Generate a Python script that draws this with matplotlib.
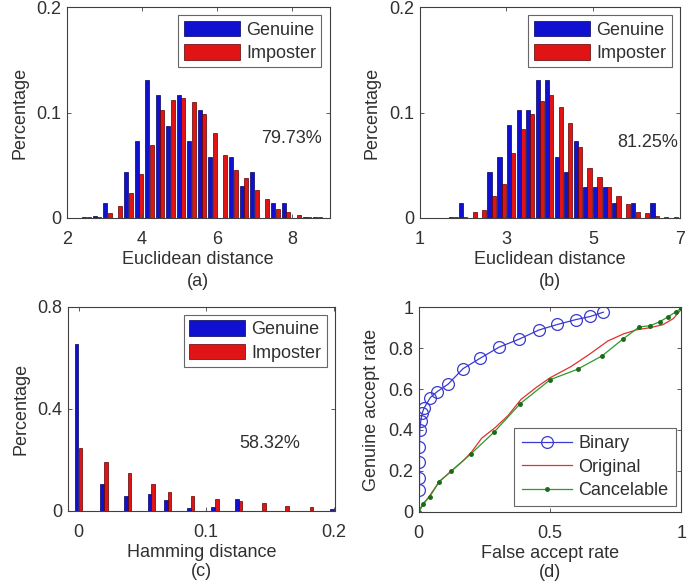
import matplotlib
matplotlib.use("Agg")
import matplotlib.pyplot as plt
import numpy as np

plt.rcParams['font.family'] = ['Liberation Sans', 'DejaVu Sans']
plt.rcParams['font.size'] = 13

TXT = '#303030'
FRAME = '#404040'
BLUE_F, BLUE_E = '#1010d0', '#00005a'
RED_F, RED_E = '#e01414', '#5a0000'

# ---------------- data ----------------
# (a) Euclidean distance histogram
a_centers = [2.52, 2.80, 3.08, 3.36, 3.64, 3.92, 4.20, 4.48, 4.76, 5.04, 5.32, 5.60,
             5.88, 6.16, 6.44, 6.72, 7.00, 7.28, 7.56, 7.84, 8.12, 8.40, 8.68]
a_genuine = [0.001, 0.002, 0.014, 0.0, 0.044, 0.073, 0.131, 0.117, 0.0875, 0.117, 0.073, 0.102,
             0.058, 0.0, 0.058, 0.030, 0.044, 0.0, 0.0145, 0.0145, 0.0, 0.001, 0.0005]
a_imposter = [0.0005, 0.001, 0.005, 0.011, 0.024, 0.042, 0.069, 0.102, 0.112, 0.114, 0.110, 0.099,
              0.081, 0.060, 0.0455, 0.038, 0.027, 0.018, 0.0085, 0.006, 0.003, 0.001, 0.0005]
a_text = '79.73%'

# (b) Euclidean distance histogram
b_centers = [1.78, 2.00, 2.22, 2.44, 2.66, 2.89, 3.11, 3.33, 3.55, 3.77, 3.99, 4.21,
             4.43, 4.65, 4.87, 5.10, 5.32, 5.54, 5.76, 5.98, 6.20, 6.42, 6.64, 6.86]
b_genuine = [0.0005, 0.0145, 0.0, 0.0, 0.044, 0.058, 0.088, 0.102, 0.102, 0.131, 0.131, 0.058,
             0.044, 0.073, 0.029, 0.029, 0.029, 0.0145, 0.0, 0.0145, 0.0, 0.0145, 0.0, 0.0]
b_imposter = [0.0005, 0.001, 0.0055, 0.0072, 0.0205, 0.032, 0.062, 0.084, 0.099, 0.111, 0.117, 0.1055,
              0.090, 0.067, 0.047, 0.039, 0.029, 0.021, 0.013, 0.006, 0.005, 0.002, 0.001, 0.0005]
b_text = '81.25%'

# (c) Hamming distance histogram
c_centers = [0.0, 0.020, 0.0385, 0.057, 0.070, 0.088, 0.107, 0.1255, 0.144, 0.162, 0.181, 0.200]
c_genuine = [0.654, 0.103, 0.059, 0.065, 0.042, 0.009, 0.013, 0.044, 0.0, 0.0, 0.0, 0.008]
c_imposter = [0.244, 0.190, 0.149, 0.105, 0.075, 0.058, 0.044, 0.039, 0.029, 0.020, 0.014, 0.0]
c_text = '58.32%'

# (d) ROC curves
bin_far = [0.003, 0.003, 0.003, 0.003, 0.004, 0.008, 0.013, 0.020, 0.044, 0.070, 0.112,
           0.169, 0.233, 0.306, 0.382, 0.458, 0.528, 0.599, 0.653, 0.703]
bin_gar = [0.106, 0.166, 0.243, 0.318, 0.400, 0.445, 0.481, 0.506, 0.558, 0.587, 0.624,
           0.700, 0.750, 0.805, 0.844, 0.889, 0.916, 0.940, 0.955, 0.976]
orig_far = [0.0, 0.02, 0.04, 0.08, 0.13, 0.17, 0.20, 0.24, 0.29, 0.34, 0.39, 0.45, 0.50,
            0.58, 0.65, 0.72, 0.78, 0.83, 0.88, 0.93, 0.97, 1.0]
orig_gar = [0.0, 0.04, 0.075, 0.15, 0.205, 0.25, 0.29, 0.36, 0.41, 0.47, 0.55, 0.61, 0.655,
            0.71, 0.77, 0.835, 0.87, 0.89, 0.90, 0.915, 0.945, 0.99]
canc_far = [0.0, 0.016, 0.042, 0.076, 0.124, 0.198, 0.286, 0.387, 0.501, 0.605, 0.699,
            0.777, 0.840, 0.882, 0.919, 0.950, 0.981, 1.0]
canc_gar = [0.0, 0.040, 0.073, 0.143, 0.199, 0.282, 0.388, 0.529, 0.646, 0.697, 0.763,
            0.844, 0.904, 0.910, 0.930, 0.954, 0.979, 0.995]

series_names = ['Genuine', 'Imposter']
roc_names = ['Binary', 'Original', 'Cancelable']

# ---------------- figure ----------------
W, H = 697, 584
fig = plt.figure(figsize=(W / 100, H / 100), dpi=100)


def px_axes(l, t, r, b):
    return fig.add_axes([l / W, 1 - b / H, (r - l) / W, (b - t) / H])


def style(ax):
    for s in ax.spines.values():
        s.set_color(FRAME)
        s.set_linewidth(0.8)
    ax.tick_params(direction='in', top=True, right=True, length=3, width=0.6,
                   color=FRAME, labelcolor=TXT, labelsize=13)
    ax.tick_params(axis='x', pad=9.5)
    ax.tick_params(axis='y', pad=4)


def hist_panel(ax, centers, gen, imp, w, off, xlim, ylim, xticks, yticks, yticklabels,
               xlabel, tag, tagy, txt, txy):
    c = np.asarray(centers)
    ax.bar(c - off, gen, width=w, color=BLUE_F, edgecolor=BLUE_E, linewidth=0.5,
           label=series_names[0])
    ax.bar(c + off, imp, width=w, color=RED_F, edgecolor=RED_E, linewidth=0.5,
           label=series_names[1])
    ax.set_xlim(*xlim)
    ax.set_ylim(*ylim)
    ax.set_xticks(xticks)
    ax.set_yticks(yticks)
    ax.set_yticklabels(yticklabels)
    style(ax)
    ax.set_xlabel(xlabel, color=TXT, fontsize=13, labelpad=2)
    ax.set_ylabel('Percentage', color=TXT, fontsize=13, labelpad=6)
    ax.text(0.5, tagy, tag, transform=ax.transAxes, ha='center', va='center',
            color=TXT, fontsize=13)
    ax.text(txy[0], txy[1], txt, ha='center', va='center', color=TXT, fontsize=13)
    leg = ax.legend(loc='upper right', fontsize=13, frameon=True, fancybox=False,
                    handlelength=3.1, handleheight=0.95, handletextpad=0.35,
                    labelspacing=0.3, borderpad=0.3, borderaxespad=0.45)
    leg.get_frame().set_edgecolor(FRAME)
    leg.get_frame().set_linewidth(0.8)
    for t in leg.get_texts():
        t.set_color(TXT)


ax_a = px_axes(67, 7, 329.5, 218)
hist_panel(ax_a, a_centers, a_genuine, a_imposter, 0.108, 0.0575, (2, 9), (0, 0.2),
           [2, 4, 6, 8], [0, 0.1, 0.2], ['0', '0.1', '0.2'],
           'Euclidean distance', '(a)', -0.30, a_text, (8.0, 0.075))

ax_b = px_axes(419.7, 7, 679.7, 218)
hist_panel(ax_b, b_centers, b_genuine, b_imposter, 0.095, 0.048, (1, 7), (0, 0.2),
           [1, 3, 5, 7], [0, 0.1, 0.2], ['0', '0.1', '0.2'],
           'Euclidean distance', '(b)', -0.30, b_text, (6.25, 0.072))

ax_c = px_axes(68.3, 306.7, 335, 510.7)
hist_panel(ax_c, c_centers, c_genuine, c_imposter, 0.0027, 0.00145, (-0.008, 0.201),
           (0, 0.8), [0, 0.1, 0.2], [0, 0.4, 0.8], ['0', '0.4', '0.8'],
           'Hamming distance', '(c)', -0.298, c_text, (0.150, 0.264))
ax_c.set_xticklabels(['0', '0.1', '0.2'])

ax_d = px_axes(418.7, 307.3, 681.3, 511.7)
ax_d.plot(bin_far, bin_gar, '-', color='#3a3ad0', linewidth=0.9, marker='o',
          markersize=8.5, markerfacecolor='none', markeredgecolor='#3a3ad0',
          markeredgewidth=0.9, label=roc_names[0])
ax_d.plot(orig_far, orig_gar, '-', color='#e03030', linewidth=0.9, label=roc_names[1])
ax_d.plot(canc_far, canc_gar, '-', color='#2a9a2a', linewidth=0.9, marker='.',
          markersize=5, markerfacecolor='#1a6a1a', markeredgecolor='#1a6a1a',
          label=roc_names[2])
ax_d.set_xlim(0, 1)
ax_d.set_ylim(0, 1)
ax_d.set_xticks([0, 0.5, 1])
ax_d.set_xticklabels(['0', '0.5', '1'])
ax_d.set_yticks([0, 0.2, 0.4, 0.6, 0.8, 1])
ax_d.set_yticklabels(['0', '0.2', '0.4', '0.6', '0.8', '1'])
style(ax_d)
ax_d.set_xlabel('False accept rate', color=TXT, fontsize=13, labelpad=2)
ax_d.set_ylabel('Genuine accept rate', color=TXT, fontsize=13, labelpad=6)
ax_d.text(0.5, -0.298, '(d)', transform=ax_d.transAxes, ha='center', va='center',
          color=TXT, fontsize=13)
leg = ax_d.legend(loc='lower right', fontsize=13, frameon=True, fancybox=False,
                  handlelength=2.8, handletextpad=0.35, labelspacing=0.35,
                  borderpad=0.4, borderaxespad=0.3)
leg.get_frame().set_edgecolor(FRAME)
leg.get_frame().set_linewidth(0.8)
for t in leg.get_texts():
    t.set_color(TXT)

fig.savefig('out.png', dpi=100)
